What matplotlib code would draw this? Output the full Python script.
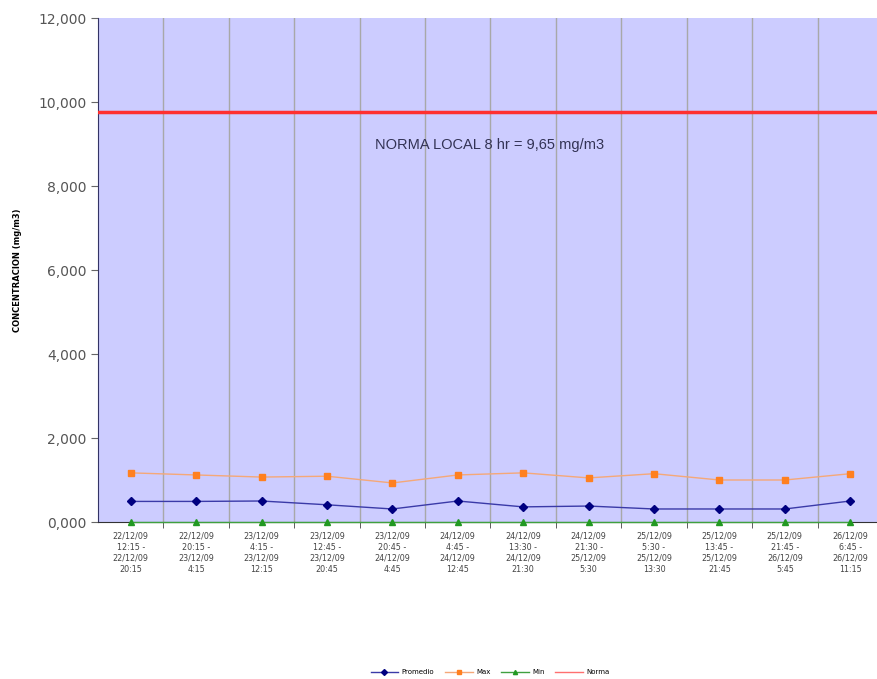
import numpy as np
import matplotlib
matplotlib.use("Agg")
import matplotlib.pyplot as plt
from matplotlib.ticker import FuncFormatter, FixedLocator
from matplotlib.lines import Line2D

periods = ["22/12/09\n12:15 -\n22/12/09\n20:15", "22/12/09\n20:15 -\n23/12/09\n4:15",
           "23/12/09\n4:15 -\n23/12/09\n12:15", "23/12/09\n12:45 -\n23/12/09\n20:45",
           "23/12/09\n20:45 -\n24/12/09\n4:45", "24/12/09\n4:45 -\n24/12/09\n12:45",
           "24/12/09\n13:30 -\n24/12/09\n21:30", "24/12/09\n21:30 -\n25/12/09\n5:30",
           "25/12/09\n5:30 -\n25/12/09\n13:30", "25/12/09\n13:45 -\n25/12/09\n21:45",
           "25/12/09\n21:45 -\n26/12/09\n5:45", "26/12/09\n6:45 -\n26/12/09\n11:15"]
promedio = [0.49, 0.49, 0.50, 0.41, 0.31, 0.50, 0.36, 0.38, 0.31, 0.31, 0.31, 0.50]
maximo = [1.17, 1.12, 1.07, 1.09, 0.93, 1.12, 1.17, 1.05, 1.15, 1.00, 1.00, 1.15]
minimo = [0.01, 0.01, 0.01, 0.01, 0.01, 0.01, 0.01, 0.01, 0.01, 0.01, 0.01, 0.01]
norma = 9.76

W, H = 877, 679
fig = plt.figure(figsize=(W / 100, H / 100), dpi=100)
# plot area runs a little past the right edge, as in the cropped original
left, right, top, bottom = 98, 883, 18, 522
ax = fig.add_axes([left / W, 1 - bottom / H, (right - left) / W, (bottom - top) / H])
ax.set_facecolor("#ccccff")

x = np.arange(len(periods))
ax.axhline(norma, color="#ff3030", lw=2.5, zorder=3)
ax.plot(x, maximo, color="#f5a878", lw=1, marker="s", ms=5, mfc="#ff8020", mec="#ff8020", zorder=4)
ax.plot(x, promedio, color="#3a3aa8", lw=1, marker="D", ms=4, mfc="#000080", mec="#000080", zorder=4)
ax.plot(x, minimo, color="#40a040", lw=1, marker="^", ms=5, mfc="#229922", mec="#229922", zorder=4,
        clip_on=False)

ax.set_xlim(-0.5, len(periods) - 0.5)
ax.set_ylim(0, 12)
ax.set_yticks(np.arange(0, 13, 2))
ax.yaxis.set_major_formatter(FuncFormatter(lambda v, p: f"{v:.3f}".replace(".", ",")))
ax.tick_params(axis="y", labelsize=10, labelcolor="#555555", length=5, color="#666666")

ax.set_xticks(x)
ax.set_xticklabels(periods, fontsize=5.8, color="#444444", linespacing=1.3)
ax.tick_params(axis="x", length=0, pad=7)
ax.xaxis.set_minor_locator(FixedLocator(x[1:] - 0.5))
ax.tick_params(axis="x", which="minor", length=4, color="#444444")
ax.grid(axis="x", which="minor", color="#a8a8a8", lw=1)

for s in ["top", "right"]:
    ax.spines[s].set_visible(False)
ax.spines["left"].set_color("#333366")
ax.spines["bottom"].set_color("#333333")

fig.text(375 / W, 1 - 145 / H, "NORMA LOCAL 8 hr = 9,65 mg/m3", fontsize=10.5,
         family="Liberation Sans", color="#333355", va="center")
fig.text(18 / W, 1 - 270 / H, "CONCENTRACION (mg/m3)", rotation=90, fontsize=6,
         fontweight="bold", ha="center", va="center")

# legend along the bottom
handles = [Line2D([], [], color="#3a3aa8", marker="D", ms=3, mfc="#000080", mec="#000080", lw=1),
           Line2D([], [], color="#f5a878", marker="s", ms=3, mfc="#ff8020", mec="#ff8020", lw=1),
           Line2D([], [], color="#40a040", marker="^", ms=3, mfc="#229922", mec="#229922", lw=1),
           Line2D([], [], color="#ff7070", lw=1)]
fig.legend(handles, ["Promedio", "Max", "Min", "Norma"], loc="center",
           bbox_to_anchor=(490 / W, 1 - 672 / H), ncol=4, frameon=False, fontsize=5,
           handlelength=4, columnspacing=1.5, handletextpad=0.5)

fig.savefig("out.png", dpi=100)
